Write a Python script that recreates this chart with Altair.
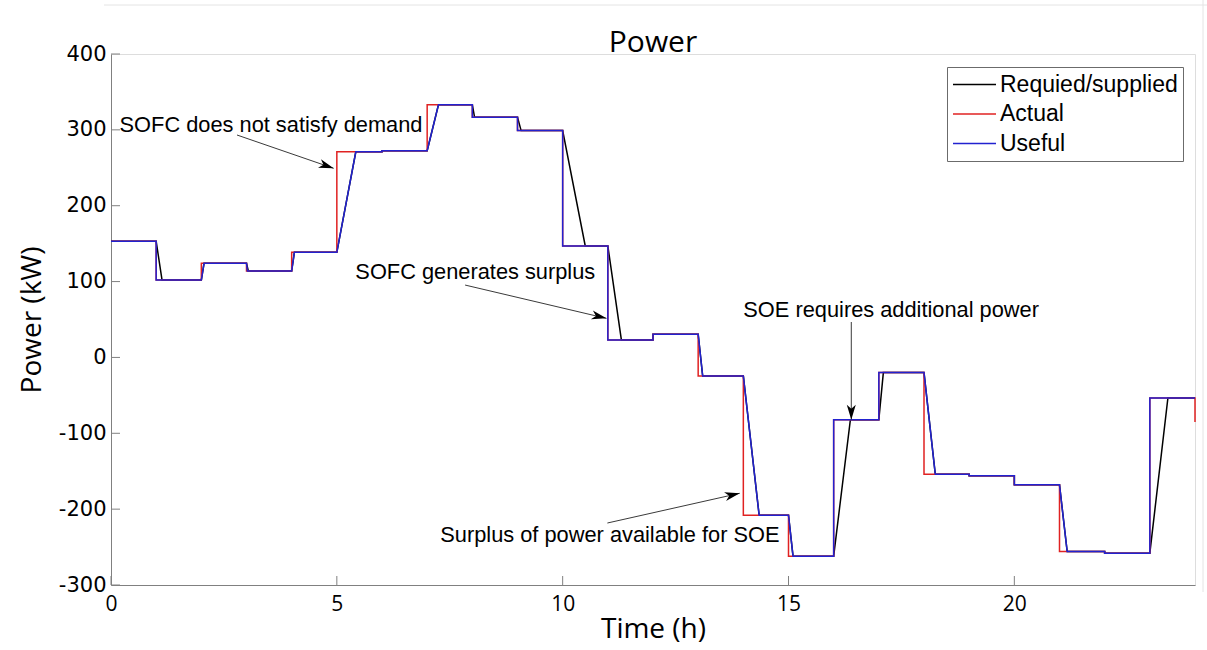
import math
import altair as alt
import pandas as pd

# ---------------- data ----------------
# power level held during each hour (0-1, 1-2, ..., 23-24), kW
hour_levels = [153, 102, 124, 114, 138.5, 271, 272.5, 333, 316.5, 299,
               147, 23, 30.5, -24.5, -208, -262, -82, -20, -154, -156,
               -168, -256, -258, -53.5]
# duration (h) of the ramp after each hourly switch (at hours 1..23); 0 = vertical step
required_ramp = [0.13, 0.06, 0.04, 0.06, 0.42, 0.0, 0.25, 0.05, 0.08, 0.5,
                 0.3, 0.0, 0.1, 0.35, 0.1, 0.37, 0.1, 0.25, 0.0, 0.0,
                 0.17, 0.0, 0.4]
actual_ramp = [0.0, 0.0, 0.0, 0.0, 0.0, 0.0, 0.0, 0.0, 0.0, 0.0,
               0.0, 0.0, 0.0, 0.0, 0.0, 0.0, 0.0, 0.0, 0.0, 0.0,
               0.0, 0.0, 0.0]
useful_ramp = [0.0, 0.06, 0.02, 0.06, 0.42, 0.0, 0.25, 0.0, 0.0, 0.0,
               0.0, 0.0, 0.1, 0.35, 0.1, 0.0, 0.0, 0.25, 0.0, 0.0,
               0.17, 0.0, 0.0]
actual_end_value = -85

series_names = ["Requied/supplied", "Actual", "Useful"]
series_colors = ["#000000", "#e02222", "#2222d0"]

x_ticks = [0, 5, 10, 15, 20]
y_ticks = [-300, -200, -100, 0, 100, 200, 300, 400]

ann_text = ["SOFC does not satisfy demand", "SOFC generates surplus",
            "SOE requires additional power", "Surplus of power available for SOE"]
ann_t = [0.19, 5.41, 14.0, 7.29]
ann_v = [297, 103, 53, -243]

arrow_t1 = [2.79, 7.84, 16.39, 10.99]
arrow_v1 = [293.2, 95.4, 46.7, -218.3]
arrow_t2 = [4.93, 10.97, 16.39, 13.92]
arrow_v2 = [249.3, 51.5, -82.0, -179.1]

# ---------------- layout ----------------
W, H = 1084, 531
X_DOM = [0, 24]
Y_DOM = [-300, 400]
PX_H = W / (X_DOM[1] - X_DOM[0])
PX_KW = H / (Y_DOM[1] - Y_DOM[0])


def build(name, ramps, extra_end=None):
    ts, vs = [0.0], [hour_levels[0]]
    for i in range(1, 24):
        ts.append(float(i)); vs.append(hour_levels[i - 1])
        ts.append(i + ramps[i - 1]); vs.append(hour_levels[i])
    ts.append(24.0); vs.append(hour_levels[23])
    if extra_end is not None:
        ts.append(24.0); vs.append(extra_end)
    return pd.DataFrame({"t": ts, "v": vs, "series": name, "idx": range(len(ts))})


lines_df = pd.concat([
    build(series_names[0], required_ramp),
    build(series_names[1], actual_ramp, actual_end_value),
    build(series_names[2], useful_ramp),
], ignore_index=True)

ann_df = pd.DataFrame({"t": ann_t, "v": ann_v, "text": ann_text})

angles = []
for a, b, c, d in zip(arrow_t1, arrow_v1, arrow_t2, arrow_v2):
    dx = (c - a) * PX_H
    dy = -(d - b) * PX_KW
    angles.append(math.degrees(math.atan2(dx, -dy)) % 360)
arrow_df = pd.DataFrame({"t1": arrow_t1, "v1": arrow_v1, "t2": arrow_t2,
                         "v2": arrow_v2, "angle": angles})

xtick_df = pd.DataFrame({"t": x_ticks})
ytick_df = pd.DataFrame({"v": y_ticks})

AX = "#808080"
x_scale = alt.Scale(domain=X_DOM, nice=False, zero=False)
y_scale = alt.Scale(domain=Y_DOM, nice=False, zero=False)

x_enc = alt.X("t:Q", scale=x_scale, axis=alt.Axis(
    values=x_ticks, title="Time (h)", ticks=False, grid=False,
    labelExpr="'' + datum.value",
    labelFont="Open Sans", labelFontSize=21, labelPadding=8, labelFlush=False,
    labelColor="black", titleFont="Open Sans", titleFontSize=28,
    titleFontWeight="normal", titleColor="black", titlePadding=1,
    domainColor=AX, domainWidth=1))
y_enc = alt.Y("v:Q", scale=y_scale, axis=alt.Axis(
    values=y_ticks, title="Power (kW)", ticks=False, grid=False,
    labelExpr="'' + datum.value",
    labelFont="DejaVu Sans", labelFontSize=21, labelPadding=5,
    labelColor="black", titleFont="Open Sans", titleFontSize=28,
    titleFontWeight="normal", titleColor="black", titlePadding=12,
    domainColor=AX, domainWidth=1))

color_enc = alt.Color("series:N", scale=alt.Scale(domain=series_names, range=series_colors),
                      legend=alt.Legend(
                          title=None, orient="none", legendX=836, legendY=13,
                          direction="vertical", symbolType="stroke",
                          symbolSize=1849, symbolStrokeWidth=1.3,
                          labelFont="Liberation Sans", labelFontSize=23,
                          labelColor="black", labelOffset=3, rowPadding=4.5,
                          clipHeight=25, padding=5, strokeColor="#6b6b6b",
                          fillColor="white", labelLimit=400))

base = alt.Chart(lines_df)
line_layers = [
    base.transform_filter(alt.datum.series == name).mark_line(strokeWidth=1.5).encode(
        x=x_enc, y=y_enc, color=color_enc, order=alt.Order("idx:Q"))
    for name in series_names
]

xticks = alt.Chart(xtick_df).mark_rule(color=AX, strokeWidth=1).encode(
    x=alt.X("t:Q", scale=x_scale), y=alt.value(H), y2=alt.value(H - 9))
yticks = alt.Chart(ytick_df).mark_rule(color=AX, strokeWidth=1).encode(
    y=alt.Y("v:Q", scale=y_scale), x=alt.value(0), x2=alt.value(9))

arrow_lines = alt.Chart(arrow_df).mark_rule(color="#3a3a3a", strokeWidth=1).encode(
    x=alt.X("t1:Q", scale=x_scale), y=alt.Y("v1:Q", scale=y_scale),
    x2="t2:Q", y2="v2:Q")
arrow_heads = alt.Chart(arrow_df).mark_point(
    shape="M0,0L0.3,1L0,0.72L-0.3,1Z", filled=True, size=900, color="black",
    opacity=1, strokeWidth=0).encode(
    x=alt.X("t2:Q", scale=x_scale), y=alt.Y("v2:Q", scale=y_scale),
    angle=alt.Angle("angle:Q", scale=None))

ann = alt.Chart(ann_df).mark_text(font="Liberation Sans", fontSize=21.8, align="left",
                                  baseline="alphabetic", color="black").encode(
    x=alt.X("t:Q", scale=x_scale), y=alt.Y("v:Q", scale=y_scale), text="text:N")

frame_df = pd.DataFrame({"k": [0]})
title_mark = alt.Chart(frame_df).mark_text(
    text="Power", font="Open Sans", fontSize=30, align="center",
    baseline="alphabetic", color="black").encode(
    x=alt.value(W / 2), y=alt.value(-2))
edge_top = alt.Chart(frame_df).mark_rule(color="#e4e4e4").encode(
    x=alt.value(-7), x2=alt.value(1096), y=alt.value(-49))
edge_right = alt.Chart(frame_df).mark_rule(color="#e4e4e4").encode(
    x=alt.value(1092), y=alt.value(-54), y2=alt.value(538))

chart = alt.layer(
    edge_top, edge_right, xticks, yticks, *line_layers, arrow_lines, arrow_heads,
    ann, title_mark
).properties(
    width=W, height=H,
    autosize=alt.AutoSizeParams(type="none"),
    padding={"left": 111, "top": 54, "right": 12, "bottom": 65},
).configure_view(stroke=None).configure(background="white")

chart.save("out.html", embed_options={"renderer": "svg", "actions": False})
